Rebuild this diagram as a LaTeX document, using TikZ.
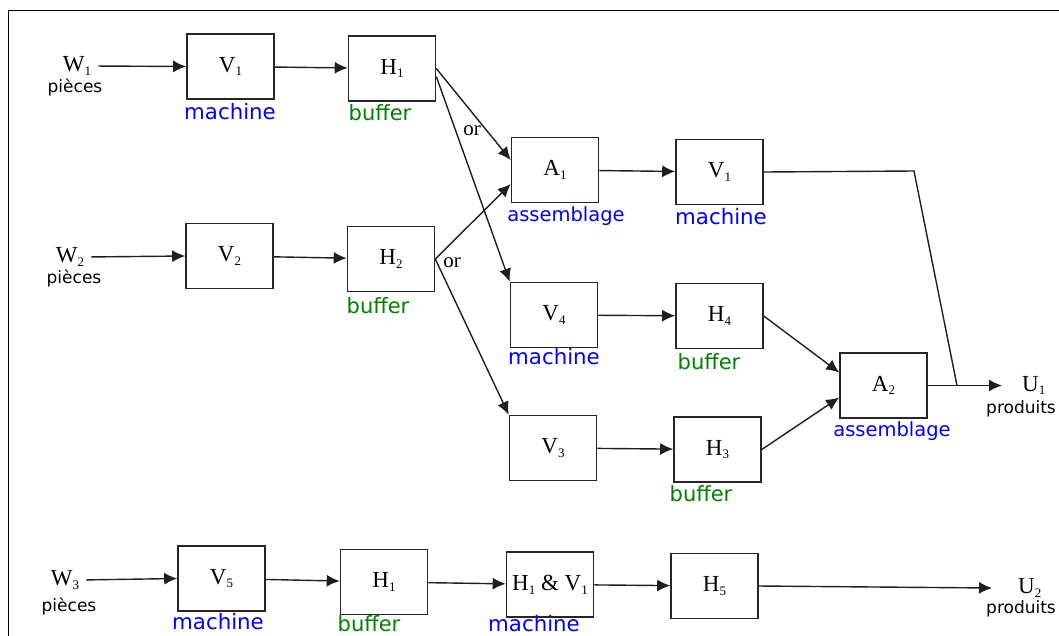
\documentclass[tikz,border=0pt]{standalone}
\usepackage{fontspec}
\setmainfont{Liberation Serif}
\newfontfamily\labfont{DejaVu Sans}
\usetikzlibrary{arrows.meta}
\definecolor{lblue}{RGB}{0,0,255}
\definecolor{lgreen}{RGB}{0,128,0}
\newcommand\lowsub[1]{\raisebox{-0.35ex}{\fontsize{13}{13}\selectfont #1}}
\begin{document}
\begin{tikzpicture}[x=1pt,y=-1pt,
  box/.style={draw=black!85, line width=1.6pt, minimum width=87pt, minimum height=65pt, inner sep=1pt, font=\fontsize{23}{25}\selectfont},
  conn/.style={draw=black!88, line width=1.4pt, -{Latex[length=13pt,width=12pt]}},
  plain/.style={draw=black!88, line width=1.4pt},
  io/.style={inner sep=1pt, font=\fontsize{23}{25}\selectfont},
  small/.style={inner sep=0pt, font=\labfont\fontsize{17}{19}\selectfont},
  mach/.style={inner sep=0pt, text=lblue, font=\labfont\fontsize{21.3}{23}\selectfont},
  buf/.style={inner sep=0pt, text=lgreen, font=\labfont\fontsize{21}{23}\selectfont},
  asm/.style={inner sep=0pt, text=lblue, font=\labfont\fontsize{19.5}{21}\selectfont},
  ortxt/.style={inner sep=0pt, font=\fontsize{21}{23}\selectfont}
]
\useasboundingbox (0,0) rectangle (1059,635);
% frame
\draw[line width=1.6pt] (8.5,640) -- (8.5,10.5) -- (1062,10.5);

% boxes
\node[box] (v1) at (230.5,66.5) {V\lowsub{1}};
\node[box] (h1) at (392,68.5) {H\lowsub{1}};
\node[box] (v2) at (229.5,256) {V\lowsub{2}};
\node[box] (h2) at (391,259) {H\lowsub{2}};
\node[box] (a1) at (555,170) {A\lowsub{1}};
\node[box] (v1b) at (719.5,172) {V\lowsub{1}};
\node[box] (v4) at (554,315) {V\lowsub{4}};
\node[box] (h4) at (719.5,316) {H\lowsub{4}};
\node[box] (v3) at (553,448) {V\lowsub{3}};
\node[box] (h3) at (717.5,449.5) {H\lowsub{3}};
\node[box] (a2) at (883.5,385.5) {A\lowsub{2}};
\node[box] (v5) at (221.5,578.5) {V\lowsub{5}};
\node[box] (h1c) at (384,582) {H\lowsub{1}};
\node[box] (hv) at (550,584.5) {H\lowsub{1} \& V\lowsub{1}};
\node[box] (h5) at (714.5,586) {H\lowsub{5}};

% inputs / outputs
\node[io] (w1) at (77,66) {W\lowsub{1}};
\node[small] (p1) at (75,87) {pièces};
\node[io] (w2) at (70,257) {W\lowsub{2}};
\node[small] (p2) at (74,278) {pièces};
\node[io] (w3) at (65,580) {W\lowsub{3}};
\node[small] (p3) at (69,606) {pièces};
\node[io, anchor=west] (u1) at (1021,385.5) {U\lowsub{1}};
\node[small] (q1) at (1021,409) {produits};
\node[io, anchor=west] (u2) at (1017,588) {U\lowsub{2}};
\node[small] (q2) at (1021,609) {produits};

% or labels
\node[ortxt] (or1) at (472,131) {or};
\node[ortxt] (or2) at (452,263) {or};

% annotation labels
\node[mach] (l1) at (230,112) {machine};
\node[buf] (l2) at (380,113) {buffer};
\node[buf] (l3) at (378,306) {buffer};
\node[asm] (l4) at (566,216) {assemblage};
\node[mach] (l5) at (721,217) {machine};
\node[mach] (l6) at (554,357) {machine};
\node[buf] (l7) at (709,362) {buffer};
\node[buf] (l8) at (701,494) {buffer};
\node[asm] (l9) at (892,431) {assemblage};
\node[mach] (l10) at (218,622) {machine};
\node[buf] (l11) at (369,623.5) {buffer};
\node[mach] (l12) at (534,623.5) {machine};

% connectors row 1 and 2
\draw[conn, shorten <=6pt] (w1.east) -- (v1.west);
\draw[conn] (v1) -- (h1);
\draw[conn, shorten <=6pt] (w2.east) -- (v2.west);
\draw[conn] (v2) -- (h2);
\draw[conn] (h1.east) -- ([yshift=10pt]a1.west);
\draw[conn] ([yshift=-8pt]h1.east) -- (v4.north west);
\draw[conn] (h2.east) -- ([yshift=-14pt]a1.west);
\draw[conn] (h2.east) -- (v3.north west);
\draw[conn] (a1) -- (v1b);
\draw[conn] (v4) -- (h4);
\draw[conn] (v3) -- (h3);
\draw[conn] (h4.east) -- ([yshift=13pt]a2.west);
\draw[conn] (h3.east) -- ([yshift=-12pt]a2.west);
\coordinate (k1) at (914,171);
\coordinate (k2) at (957,385.5);
\draw[plain] (v1b.east) -- (k1) -- (k2);
\draw[conn] (a2.east) -- ([xshift=-19pt]u1.west);

% row 3
\draw[conn, shorten <=6pt] (w3.east) -- (v5.west);
\draw[conn] (v5) -- (h1c);
\draw[conn] (h1c) -- (hv);
\draw[conn] (hv) -- (h5);
\draw[conn] (h5.east) -- ([xshift=-25pt]u2.west);
\end{tikzpicture}
\end{document}
